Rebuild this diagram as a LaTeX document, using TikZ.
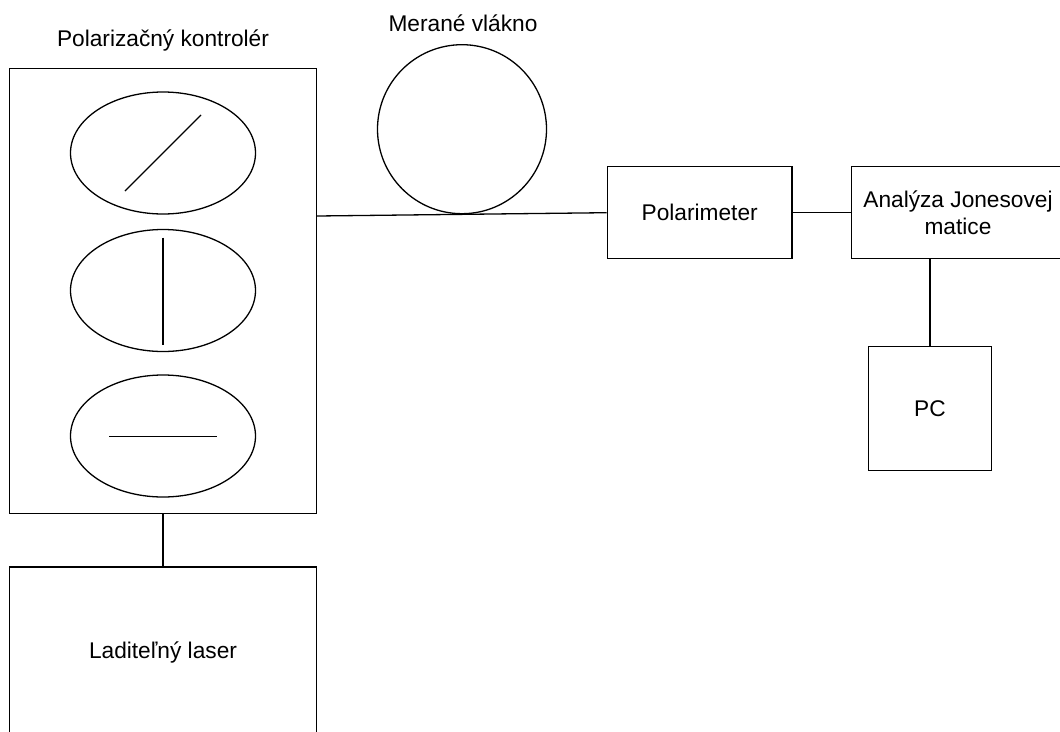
\documentclass[tikz,border=0pt]{standalone}
\usepackage{fontspec}
\setmainfont{Liberation Sans}
\usetikzlibrary{calc,shapes.geometric}
\begin{document}
\begin{tikzpicture}[x=1pt,y=-1pt,
  line width=1.3pt,
  every node/.style={font=\fontsize{22.7}{27.3}\selectfont},
  block/.style={draw,rectangle,inner sep=0pt,align=center},
  plate/.style={draw,ellipse,inner sep=0pt,minimum width=185pt,minimum height=122pt},
  caption/.style={anchor=base,inner sep=0pt}]
\clip (0,0) rectangle (1060,731);

% polarization controller with its three plates
\node[block,minimum width=307pt,minimum height=445pt] (ctrl) at (163,291) {};
\node[caption] (ctrltitle) at (163,46.7) {Polarizačný kontrolér};
\node[plate] (e1) at (163,153) {};
\node[plate] (e2) at (163,290.5) {};
\node[plate] (e3) at (163,436) {};
\draw ($(e1)+(-38,38)$) -- ($(e1)+(38,-38)$);
\draw ($(e2)+(0,-53)$) -- ($(e2)+(0,54)$);
\draw ($(e3)+(-54,0.5)$) -- ($(e3)+(54,0.5)$);

% tunable laser
\node[block,minimum width=307pt,minimum height=171pt] (laser) at (163,652.5) {Laditeľný laser};

% fiber under test
\node[draw,circle,inner sep=0pt,minimum size=169pt] (fiber) at (462,129.2) {};
\node[caption] (fibertitle) at (463,31.7) {Merané vlákno};

% measurement chain
\node[block,minimum width=184.7pt,minimum height=92pt] (pol) at (699.7,212.7) {Polarimeter};
\node[block,minimum width=213pt,minimum height=92pt] (an) at (958,212.7) {Analýza Jonesovej\\matice};
\node[block,minimum width=123.4pt,minimum height=124pt] (pc) at (930,408.7) {PC};

% connections
\draw ($(ctrl.east)+(0,-75)$) -- (pol.west);
\draw (ctrl.south) -- (laser.north);
\draw (pol.east) -- (an.west);
\draw (pc.north) -- (pc.north |- an.south);
\end{tikzpicture}
\end{document}
